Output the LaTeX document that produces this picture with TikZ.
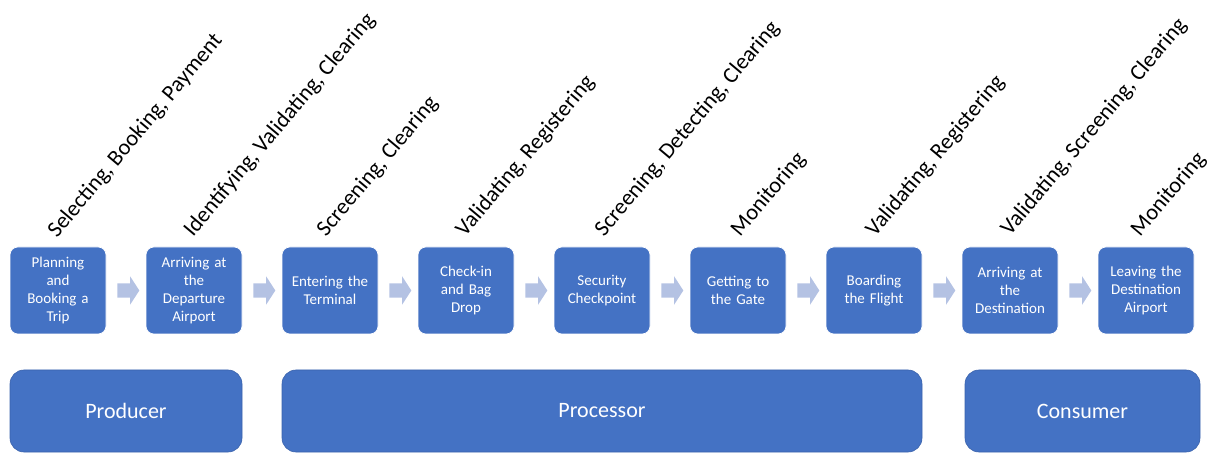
\documentclass[tikz,border=0pt]{standalone}
\usepackage{fontspec}
\setmainfont{Carlito}
\usetikzlibrary{shapes.arrows,calc}
\definecolor{boxblue}{HTML}{4472C4}
\definecolor{roleedge}{HTML}{3A62AC}
\definecolor{arrowblue}{HTML}{B4C2E3}
\begin{document}
\begin{tikzpicture}[x=1pt,y=-1pt,
  stage/.style={draw=white, line width=0.6pt, fill=boxblue, rounded corners=8pt,
    minimum width=96pt, minimum height=87pt, text width=94pt, align=center,
    text=white, inner sep=0pt, font=\fontsize{15}{17.8}\selectfont},
  role/.style={draw=roleedge, line width=0.6pt, fill=boxblue, rounded corners=14pt,
    minimum height=82pt, text=white, inner sep=0pt, font=\fontsize{22}{26}\selectfont},
  verb/.style={rotate=50, anchor=base west, inner sep=0pt, font=\fontsize{22.5}{27}\selectfont},
  flow/.style={single arrow, fill=arrowblue, draw=none, inner sep=7pt,
    minimum height=22pt, single arrow head extend=7pt, single arrow tip angle=114}]
\useasboundingbox (0,0) rectangle (1211,454);

% journey stages
\node[stage] (s1) at (58,290.5)   {Planning\\and\\Booking a\\Trip};
\node[stage] (s2) at (194,290.5)  {Arriving at\\the\\Departure\\Airport};
\node[stage] (s3) at (330,290.5)  {Entering the\\Terminal};
\node[stage] (s4) at (466,290.5)  {Check-in\\and Bag\\Drop};
\node[stage] (s5) at (602,290.5)  {Security\\Checkpoint};
\node[stage] (s6) at (738,290.5)  {Getting to\\the Gate};
\node[stage] (s7) at (874,290.5)  {Boarding\\the Flight};
\node[stage] (s8) at (1010,290.5) {Arriving at\\the\\Destination};
\node[stage] (s9) at (1146,290.5) {Leaving the\\Destination\\Airport};

% block arrows between consecutive stages
\foreach \a/\b in {1/2,2/3,3/4,4/5,5/6,6/7,7/8,8/9}
  \node[flow] (f\a) at ($(s\a.east)!0.5!(s\b.west)$) {};

% activities above each stage
\node[verb] (v1) at ($(s1.north)+(-1,-8)$) {Selecting, Booking, Payment};
\node[verb] (v2) at ($(s2.north)+(-1,-9)$) {Identifying, Validating, Clearing};
\node[verb] (v3) at ($(s3.north)+(-4,-9)$) {Screening, Clearing};
\node[verb] (v4) at ($(s4.north)+(-1,-9)$) {Validating, Registering};
\node[verb] (v5) at ($(s5.north)+(2,-9)$)  {Screening, Detecting, Clearing};
\node[verb] (v6) at ($(s6.north)+(2,-9)$)  {Monitoring};
\node[verb] (v7) at ($(s7.north)+(1,-9)$)  {Validating, Registering};
\node[verb] (v8) at ($(s8.north)+(0,-10)$) {Validating, Screening, Clearing};
\node[verb] (v9) at ($(s9.north)+(-6,-9)$) {Monitoring};

% roles
\node[role, minimum width=232pt] (producer)  at (126,411)    {Producer};
\node[role, minimum width=640pt] (processor) at (602,411)    {Processor};
\node[role, minimum width=235pt] (consumer)  at (1082.5,411) {Consumer};
\end{tikzpicture}
\end{document}
